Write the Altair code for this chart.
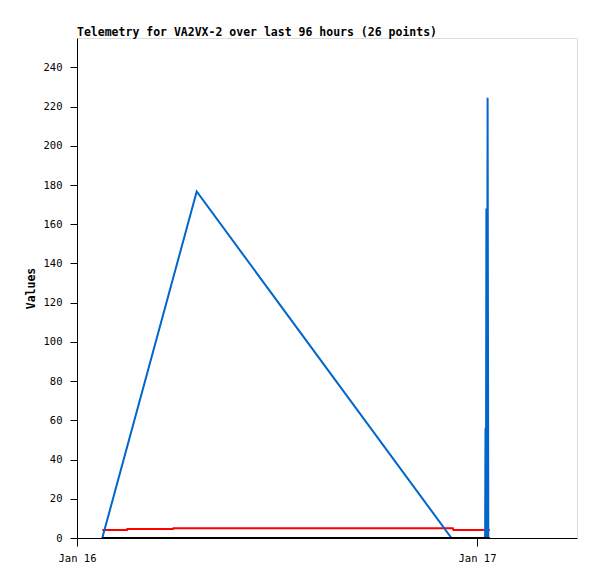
import altair as alt
import pandas as pd

# Blue series (time UTC, value)
blue_t = ["2024-01-16T01:31:00Z", "2024-01-16T07:11:00Z", "2024-01-16T22:28:00Z",
          "2024-01-17T00:29:10Z", "2024-01-17T00:30:36Z", "2024-01-17T00:32:02Z",
          "2024-01-17T00:33:50Z", "2024-01-17T00:35:38Z", "2024-01-17T00:38:10Z",
          "2024-01-17T00:40:41Z"]
blue_v = [0, 176.7, 0, 0, 56, 0, 168, 0, 224.5, 0]

# Red series
red_t = ["2024-01-16T01:31:00Z", "2024-01-16T03:00:00Z", "2024-01-16T03:01:00Z",
         "2024-01-16T05:46:00Z", "2024-01-16T05:47:00Z", "2024-01-16T22:33:00Z",
         "2024-01-16T22:35:00Z", "2024-01-17T00:46:00Z"]
red_v = [4.1, 4.1, 4.6, 4.6, 5.0, 5.0, 4.1, 4.1]

# Black series
black_t = ["2024-01-16T01:31:00Z", "2024-01-17T00:46:00Z"]
black_v = [0, 0]

y_ticks = list(range(0, 241, 20))

FONT = "DejaVu Sans Mono"

x_scale = alt.Scale(
    type="utc",
    domain=[alt.DateTime(year=2024, month=1, date=16, hours=0, utc=True),
            alt.DateTime(year=2024, month=1, date=17, hours=6, utc=True)],
)
y_scale = alt.Scale(domain=[0, 255], nice=False, zero=True)

x_axis = alt.Axis(
    values=[alt.DateTime(year=2024, month=1, date=16, utc=True),
            alt.DateTime(year=2024, month=1, date=17, utc=True)],
    format="%b %d", title=None, grid=False, tickSize=8, labelPadding=7,
    labelFlush=False, labelOverlap=False,
    labelFont=FONT, labelFontSize=10.5, labelColor="black",
    domainColor="black", tickColor="black",
)
y_axis = alt.Axis(
    values=y_ticks, title="Values", grid=False, tickSize=7, labelPadding=8,
    labelFlush=False,
    labelFont=FONT, labelFontSize=10.5, labelColor="black",
    domainColor="black", tickColor="black",
    titleFont=FONT, titleFontSize=11.5, titleFontWeight="bold", titleColor="black",
    titleX=-46, titleY=250, titleAngle=-90, titleAlign="center", titleBaseline="middle",
)

def series(ts, vs, color):
    df = pd.DataFrame({"t": ts, "v": vs})
    return alt.Chart(df).mark_line(color=color, strokeWidth=2, clip=True).encode(
        x=alt.X("t:T", scale=x_scale, axis=x_axis),
        y=alt.Y("v:Q", scale=y_scale, axis=y_axis),
    )

chart = alt.layer(
    series(red_t, red_v, "#FF0000"),
    series(blue_t, blue_v, "#0066CC"),
    series(black_t, black_v, "#000000"),
).properties(
    width=500, height=500,
    title=alt.TitleParams(
        "Telemetry for VA2VX-2 over last 96 hours (26 points)",
        anchor="start", frame="group", font=FONT, fontSize=11.5, fontWeight="bold",
        color="black", baseline="alphabetic", offset=-9,
    ),
    autosize=alt.AutoSizeParams(type="none"),
    padding={"left": 69, "top": 30, "right": 12, "bottom": 33},
).configure_view(stroke="#555555", strokeWidth=1).configure(background="white")

chart.save("out.html", embed_options={"renderer": "svg", "actions": False})
